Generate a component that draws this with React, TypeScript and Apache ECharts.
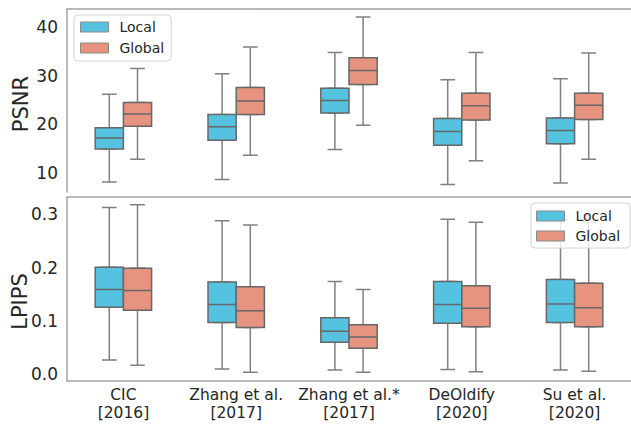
import React, { useEffect, useRef } from 'react';
import * as echarts from 'echarts';

const categories = ['CIC\n[2016]', 'Zhang et al.\n[2017]', 'Zhang et al.*\n[2017]', 'DeOldify\n[2020]', 'Su et al.\n[2020]'];
const hues = ['Local', 'Global'];
const hueColors = ['#55C2E0', '#E6937F'];

// [min, Q1, median, Q3, max]
const psnrLocal = [
  [8.1, 14.9, 17.2, 19.3, 26.2],
  [8.6, 16.7, 19.5, 22.0, 30.4],
  [14.8, 22.3, 24.9, 27.4, 34.8],
  [7.6, 15.7, 18.5, 21.2, 29.2],
  [7.9, 16.0, 18.7, 21.3, 29.4],
];
const psnrGlobal = [
  [12.8, 19.6, 22.1, 24.5, 31.5],
  [13.6, 22.0, 24.8, 27.6, 35.9],
  [19.8, 28.2, 31.1, 33.7, 42.1],
  [12.5, 20.9, 23.8, 26.4, 34.8],
  [12.8, 21.0, 23.9, 26.4, 34.7],
];
const lpipsLocal = [
  [0.027, 0.126, 0.159, 0.201, 0.313],
  [0.010, 0.097, 0.131, 0.173, 0.288],
  [0.008, 0.060, 0.081, 0.106, 0.174],
  [0.009, 0.096, 0.131, 0.174, 0.291],
  [0.008, 0.097, 0.132, 0.178, 0.290],
];
const lpipsGlobal = [
  [0.017, 0.120, 0.157, 0.199, 0.318],
  [0.004, 0.088, 0.119, 0.164, 0.280],
  [0.004, 0.049, 0.070, 0.093, 0.159],
  [0.005, 0.089, 0.124, 0.166, 0.285],
  [0.006, 0.089, 0.125, 0.171, 0.285],
];
const psnrTicks = [10, 20, 30, 40];
const lpipsTicks = [0, 0.1, 0.2, 0.3];

const FONT = 'DejaVu Sans';
const SPINE = '#a3a3a3';
const TEXT = '#262626';

export default function App() {
  const ref = useRef<HTMLDivElement>(null);
  useEffect(() => {
    if (!ref.current) return;
    const chart = echarts.init(ref.current, undefined, { renderer: 'svg' });
    const panels = [
      { data: [psnrLocal, psnrGlobal] },
      { data: [lpipsLocal, lpipsGlobal] },
    ];
    const xAxes: any[] = [
      {
        type: 'category', gridIndex: 0, position: 'top', data: categories,
        axisLine: { show: true, onZero: false, lineStyle: { color: SPINE, width: 1.5 } },
        axisTick: { show: false }, axisLabel: { show: false }, splitLine: { show: false },
      },
      {
        type: 'category', gridIndex: 1, position: 'bottom', data: categories,
        axisLine: { show: true, onZero: false, lineStyle: { color: SPINE, width: 1.5 } },
        axisTick: { show: false },
        axisLabel: { interval: 0, fontFamily: FONT, fontSize: 15.5, lineHeight: 18, color: TEXT, margin: 5 },
        splitLine: { show: false },
      },
      {
        type: 'category', gridIndex: 1, position: 'top', data: categories,
        axisLine: { show: true, onZero: false, lineStyle: { color: SPINE, width: 1.5 } },
        axisTick: { show: false }, axisLabel: { show: false }, splitLine: { show: false },
      },
    ];
    const series: any[] = [];
    const offsets = [-0.125, 0.125];
    panels.forEach((p, g) => {
      p.data.forEach((hueData, h) => {
        [0, 1].forEach((k) => {
          const idx = xAxes.length;
          const off = offsets[h];
          xAxes.push({
            type: 'value', gridIndex: g, show: false,
            min: -0.5 - off, max: 4.5 - off,
            axisLine: { onZero: false }, splitLine: { show: false },
          });
          const data = hueData.map((d, i) =>
            k === 0 ? [i, ...d] : [i, d[1], d[1], d[2], d[3], d[3]]
          );
          series.push({
            type: 'boxplot',
            name: k === 1 ? hues[h] : hues[h] + ' whisker',
            xAxisIndex: idx,
            yAxisIndex: g,
            data,
            z: k === 1 ? 3 : 2,
            boxWidth: k === 1 ? ['25%', '25%'] : ['13%', '13%'],
            itemStyle: k === 1
              ? { color: hueColors[h], borderColor: '#676767', borderWidth: 1.5 }
              : { color: 'rgba(0,0,0,0)', borderColor: '#808080', borderWidth: 1.5 },
            emphasis: { disabled: true },
            silent: true,
          });
        });
      });
    });

    const legendCommon = {
      orient: 'vertical',
      data: hues.map((name, h) => ({
        name,
        itemStyle: { color: hueColors[h], borderColor: '#8a8a8a', borderWidth: 1 },
      })),
      icon: 'rect',
      itemWidth: 28,
      itemHeight: 10,
      backgroundColor: 'rgba(255,255,255,0.8)',
      borderColor: '#d4d4d4',
      borderWidth: 1,
      borderRadius: 4,
      textStyle: { fontFamily: FONT, fontSize: 14, lineHeight: 14, color: TEXT, padding: [0, 0, 0, 6] },
      selectedMode: false,
    };

    chart.setOption({
      animation: false,
      grid: [
        { left: 67, top: 9, width: 566, height: 183 },
        { left: 67, top: 197, width: 566, height: 184 },
      ],
      xAxis: xAxes,
      yAxis: [
        {
          type: 'value', gridIndex: 0, min: 6.05, max: 43.75,
          axisLine: { show: true, onZero: false, lineStyle: { color: SPINE, width: 1.5 } },
          axisTick: { show: false }, splitLine: { show: false },
          axisLabel: { customValues: psnrTicks, fontFamily: FONT, fontSize: 17, color: TEXT, margin: 9 },
        },
        {
          type: 'value', gridIndex: 1, min: -0.0125, max: 0.3325,
          axisLine: { show: true, onZero: false, lineStyle: { color: SPINE, width: 1.5 } },
          axisTick: { show: false }, splitLine: { show: false },
          axisLabel: {
            customValues: lpipsTicks, fontFamily: FONT, fontSize: 17, color: TEXT, margin: 9,
            formatter: (v: number) => v.toFixed(1),
          },
        },
      ],
      legend: [
        { ...legendCommon, left: 74, top: 15, padding: [5, 7, 6, 6], itemGap: 7 },
        { ...legendCommon, left: 531, top: 203, padding: [6, 10, 5, 5], itemGap: 6 },
      ],
      graphic: [
        {
          type: 'text', x: 20.5, y: 104, rotation: Math.PI / 2,
          style: { text: 'PSNR', fontFamily: FONT, fontSize: 21, fill: TEXT, align: 'center', verticalAlign: 'middle' },
        },
        {
          type: 'text', x: 19.5, y: 301.5, rotation: Math.PI / 2,
          style: { text: 'LPIPS', fontFamily: FONT, fontSize: 21, fill: TEXT, align: 'center', verticalAlign: 'middle' },
        },
      ],
      series,
    });
    return () => chart.dispose();
  }, []);
  return <div ref={ref} style={{ position: 'fixed', left: 0, top: 0, width: 631, height: 425, background: '#fff' }} />;
}
